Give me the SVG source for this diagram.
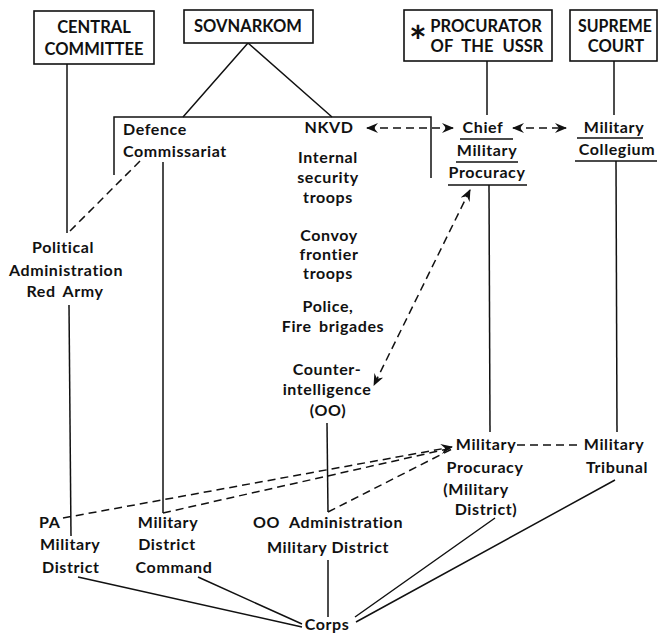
<svg xmlns="http://www.w3.org/2000/svg" width="659" height="636" viewBox="0 0 659 636">
<defs>
<style>
.t{font-family:Lato,"Open Sans","DejaVu Sans",sans-serif;font-weight:bold;font-size:16px;letter-spacing:0.6px;fill:#111;text-anchor:middle}
.tl{text-anchor:start}
.cap{font-size:16.5px;letter-spacing:0}
.box{fill:#fff;stroke:#111;stroke-width:1.6}
.ln{fill:none;stroke:#111;stroke-width:1.5}
.ds{fill:none;stroke:#111;stroke-width:1.5;stroke-dasharray:8 5}
</style>
<marker id="ah" viewBox="0 0 12 10" refX="11" refY="5" markerWidth="12" markerHeight="10" markerUnits="userSpaceOnUse" orient="auto-start-reverse">
<path d="M0,0 L12,5 L0,10 L4,5 z" fill="#111"/>
</marker>
</defs>
<rect width="659" height="636" fill="#fff"/>

<g id="connectors">
<path class="ln" d="M248,43 L183,117 M248,43 L332,117"/>
<path class="ln" d="M114,175 L114,117 L431,117 L431,178"/>
<path class="ln" d="M67,64 L67,233"/>
<path class="ln" d="M69,305 L71,536"/>
<path class="ds" d="M140,161 L68,233"/>
<path class="ln" d="M163,162 L163,513"/>
<path class="ln" d="M327,423 L328,512"/>
<path class="ln" d="M487,61 L487,115"/>
<path class="ln" d="M489,185 L490,432"/>
<path class="ln" d="M614,61 L614,115"/>
<path class="ln" d="M616,161 L617,432"/>
<path class="ln" d="M460,139 L513,139 M456,162 L518,162 M448,185 L527,185 M577,138 L643,138 M575,161 L657,161"/>
<path class="ds" d="M367,128 L453,128" marker-start="url(#ah)" marker-end="url(#ah)"/>
<path class="ds" d="M513,128 L566,128" marker-start="url(#ah)" marker-end="url(#ah)"/>
<path class="ds" d="M470,190 L374,385" marker-start="url(#ah)" marker-end="url(#ah)"/>
<path class="ds" d="M63,518 L452,447" marker-end="url(#ah)"/>
<path class="ds" d="M163,513 L452,448"/>
<path class="ds" d="M328,512 L452,449"/>
<path class="ds" d="M517,445 L582,445"/>
<path class="ln" d="M78,577 L302,627 M198,577 L302,624"/>
<path class="ln" d="M328,560 L328,617"/>
<path class="ln" d="M355,617 L495,518 M356,622 L615,480"/>
</g>

<g id="central-committee">
<rect class="box" x="34" y="11" width="120" height="53"/>
<text class="t cap" x="94" y="33">CENTRAL</text>
<text class="t cap" x="94" y="55">COMMITTEE</text>
</g>
<g id="sovnarkom">
<rect class="box" x="184" y="10" width="129" height="33"/>
<text class="t cap" x="248" y="32">SOVNARKOM</text>
</g>
<g id="procurator">
<rect class="box" x="404" y="10" width="148" height="51"/>
<text class="t" x="418" y="57" style="font-size:42px;letter-spacing:0">*</text>
<text class="t cap" x="486" y="32">PROCURATOR</text>
<text class="t cap" x="487" y="52" word-spacing="5">OF THE USSR</text>
</g>
<g id="supreme-court">
<rect class="box" x="570" y="10" width="87" height="51"/>
<text class="t cap" x="615" y="32" textLength="74" lengthAdjust="spacingAndGlyphs">SUPREME</text>
<text class="t cap" x="616" y="52">COURT</text>
</g>

<g id="defence-commissariat">
<text class="t tl" x="123" y="135">Defence</text>
<text class="t tl" x="123" y="157">Commissariat</text>
</g>
<g id="nkvd">
<text class="t" x="329" y="133">NKVD</text>
</g>
<g id="internal-security">
<text class="t" x="328" y="163">Internal</text>
<text class="t" x="328" y="183">security</text>
<text class="t" x="328" y="203">troops</text>
</g>
<g id="convoy-frontier">
<text class="t" x="329" y="241">Convoy</text>
<text class="t" x="329" y="260">frontier</text>
<text class="t" x="328" y="279">troops</text>
</g>
<g id="police">
<text class="t" x="328" y="312">Police,</text>
<text class="t" x="333" y="332" word-spacing="3">Fire brigades</text>
</g>
<g id="counter-intelligence">
<text class="t" x="327" y="375">Counter-</text>
<text class="t" x="327" y="395">intelligence</text>
<text class="t" x="328" y="416">(OO)</text>
</g>
<g id="chief-military-procuracy">
<text class="t" x="483" y="133">Chief</text>
<text class="t" x="487" y="156">Military</text>
<text class="t" x="487" y="178">Procuracy</text>
</g>
<g id="military-collegium">
<text class="t" x="614" y="133">Military</text>
<text class="t" x="617" y="155">Collegium</text>
</g>
<g id="political-administration">
<text class="t" x="63" y="253">Political</text>
<text class="t" x="66" y="276">Administration</text>
<text class="t" x="65" y="297" word-spacing="3">Red Army</text>
</g>
<g id="pa-military-district">
<text class="t tl" x="39" y="528">PA</text>
<text class="t tl" x="40" y="550">Military</text>
<text class="t tl" x="42" y="573">District</text>
</g>
<g id="military-district-command">
<text class="t" x="168" y="528">Military</text>
<text class="t" x="167" y="550">District</text>
<text class="t" x="174" y="573">Command</text>
</g>
<g id="oo-administration">
<text class="t" x="328" y="528" word-spacing="5">OO Administration</text>
<text class="t" x="328" y="553">Military District</text>
</g>
<g id="military-procuracy-md">
<text class="t" x="486" y="450">Military</text>
<text class="t" x="485" y="473">Procuracy</text>
<text class="t" x="476" y="495">(Military</text>
<text class="t" x="486" y="515">District)</text>
</g>
<g id="military-tribunal">
<text class="t" x="614" y="450">Military</text>
<text class="t" x="617" y="473">Tribunal</text>
</g>
<g id="corps">
<text class="t" x="327" y="630">Corps</text>
</g>
</svg>
